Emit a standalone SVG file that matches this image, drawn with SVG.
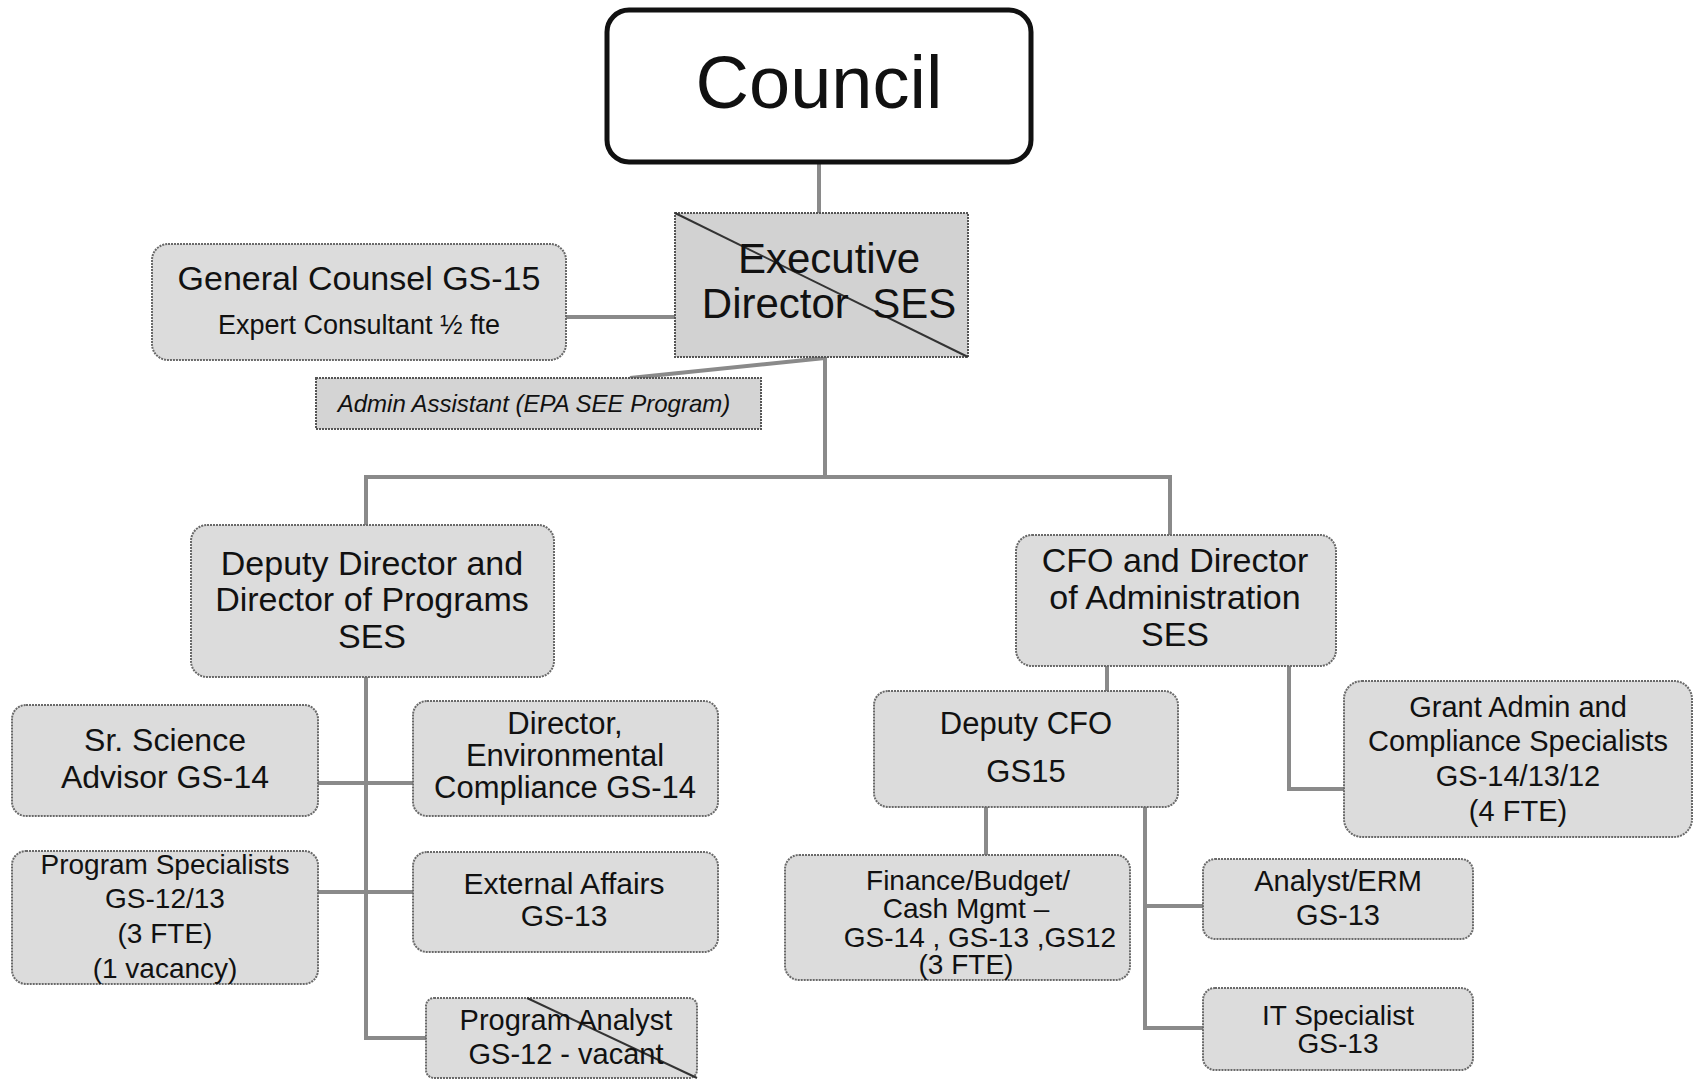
<svg xmlns="http://www.w3.org/2000/svg" width="1700" height="1080" viewBox="0 0 1700 1080">
<defs>
<linearGradient id="gshade" x1="0" y1="0" x2="1" y2="1">
<stop offset="0" stop-color="#d6d6d6"/>
<stop offset="0.45" stop-color="#d2d2d2"/>
<stop offset="0.6" stop-color="#e2e2e2"/>
<stop offset="1" stop-color="#d8d8d8"/>
</linearGradient>
<linearGradient id="gshade2" x1="0" y1="0" x2="1" y2="1">
<stop offset="0" stop-color="#d9d9d9"/>
<stop offset="0.2" stop-color="#e4e4e4"/>
<stop offset="0.4" stop-color="#d8d8d8"/>
<stop offset="1" stop-color="#dadada"/>
</linearGradient>
</defs>
<style>
text{font-family:"Liberation Sans",Arial,sans-serif;fill:#111;text-anchor:middle}
.box{fill:#dcdcdc;stroke:#6a6a6a;stroke-width:2;stroke-dasharray:2 1}
.conn{stroke:#8a8a8a;stroke-width:4;fill:none}
.diag{stroke:#333;stroke-width:2}
</style>
<rect width="1700" height="1080" fill="#ffffff"/>
<g id="connectors">
<line class="conn" x1="819" y1="163" x2="819" y2="213"/>
<line class="conn" x1="566" y1="317" x2="675" y2="317"/>
<line class="conn" x1="630" y1="378" x2="825" y2="358"/>
<polyline class="conn" points="825,357 825,477"/>
<polyline class="conn" points="366,525 366,477 1170,477 1170,535"/>
<polyline class="conn" points="366,677 366,1038 426,1038"/>
<line class="conn" x1="318" y1="783" x2="413" y2="783"/>
<line class="conn" x1="318" y1="892" x2="413" y2="892"/>
<line class="conn" x1="1107" y1="666" x2="1107" y2="691"/>
<polyline class="conn" points="1289,666 1289,789 1344,789"/>
<line class="conn" x1="986" y1="807" x2="986" y2="855"/>
<polyline class="conn" points="1145,807 1145,1028 1203,1028"/>
<line class="conn" x1="1145" y1="906" x2="1203" y2="906"/>
</g>
<g id="council">
<rect x="607" y="10" width="424" height="152" rx="22" fill="#ffffff" stroke="#111" stroke-width="5"/>
<text x="819" y="108" font-size="74">Council</text>
</g>
<g id="executive-director">
<rect x="675" y="213" width="293" height="144" fill="#d2d2d2" stroke="#555" stroke-width="2" stroke-dasharray="2 1"/>
<line class="diag" x1="675" y1="213" x2="968" y2="357"/>
<text x="829" y="273" font-size="42">Executive</text>
<text x="829" y="318" font-size="42" xml:space="preserve">Director  SES</text>
</g>
<g id="general-counsel">
<rect class="box" x="152" y="244" width="414" height="116" rx="16"/>
<text x="359" y="290" font-size="34">General Counsel GS-15</text>
<text x="359" y="334" font-size="27">Expert Consultant ½ fte</text>
</g>
<g id="admin-assistant">
<rect x="316" y="378" width="445" height="51" fill="#d4d4d4" stroke="#555" stroke-width="2" stroke-dasharray="2 1"/>
<text x="534" y="412" font-size="24" font-style="italic">Admin Assistant (EPA SEE Program)</text>
</g>
<g id="deputy-director">
<rect class="box" x="191" y="525" width="363" height="152" rx="16"/>
<text x="372" y="575" font-size="34">Deputy Director and</text>
<text x="372" y="611" font-size="34">Director of Programs</text>
<text x="372" y="648" font-size="34">SES</text>
</g>
<g id="cfo">
<rect class="box" x="1016" y="535" width="320" height="131" rx="16" fill="url(#gshade2)"/>
<text x="1175" y="572" font-size="34">CFO and Director</text>
<text x="1175" y="609" font-size="34">of Administration</text>
<text x="1175" y="646" font-size="34">SES</text>
</g>
<g id="sr-science-advisor">
<rect class="box" x="12" y="705" width="306" height="111" rx="14"/>
<text x="165" y="751" font-size="32">Sr. Science</text>
<text x="165" y="788" font-size="32">Advisor GS-14</text>
</g>
<g id="director-env-compliance">
<rect class="box" x="413" y="701" width="305" height="115" rx="14"/>
<text x="565" y="734" font-size="31">Director,</text>
<text x="565" y="766" font-size="31">Environmental</text>
<text x="565" y="798" font-size="31">Compliance GS-14</text>
</g>
<g id="program-specialists">
<rect class="box" x="12" y="851" width="306" height="133" rx="14"/>
<text x="165" y="874" font-size="28">Program Specialists</text>
<text x="165" y="908" font-size="28">GS-12/13</text>
<text x="165" y="943" font-size="28">(3 FTE)</text>
<text x="165" y="978" font-size="28">(1 vacancy)</text>
</g>
<g id="external-affairs">
<rect class="box" x="413" y="852" width="305" height="100" rx="14"/>
<text x="564" y="894" font-size="30">External Affairs</text>
<text x="564" y="926" font-size="30">GS-13</text>
</g>
<g id="program-analyst">
<rect class="box" x="426" y="998" width="271" height="80" rx="8"/>
<line class="diag" x1="527" y1="998" x2="697" y2="1078"/>
<text x="566" y="1030" font-size="29">Program Analyst</text>
<text x="566" y="1064" font-size="29">GS-12 - vacant</text>
</g>
<g id="deputy-cfo">
<rect class="box" x="874" y="691" width="304" height="116" rx="14" fill="url(#gshade)"/>
<text x="1026" y="734" font-size="31">Deputy CFO</text>
<text x="1026" y="782" font-size="31">GS15</text>
</g>
<g id="grant-admin">
<rect class="box" x="1344" y="681" width="348" height="156" rx="18" stroke-width="3"/>
<text x="1518" y="717" font-size="29">Grant Admin and</text>
<text x="1518" y="751" font-size="29">Compliance Specialists</text>
<text x="1518" y="786" font-size="29">GS-14/13/12</text>
<text x="1518" y="821" font-size="29">(4 FTE)</text>
</g>
<g id="finance-budget">
<rect class="box" x="785" y="855" width="345" height="125" rx="14" fill="url(#gshade2)"/>
<text x="968" y="890" font-size="28">Finance/Budget/</text>
<text x="966" y="918" font-size="28">Cash Mgmt –</text>
<text x="980" y="947" font-size="28">GS-14 , GS-13 ,GS12</text>
<text x="966" y="974" font-size="28">(3 FTE)</text>
</g>
<g id="analyst-erm">
<rect class="box" x="1203" y="859" width="270" height="80" rx="12" fill="url(#gshade2)"/>
<text x="1338" y="891" font-size="29">Analyst/ERM</text>
<text x="1338" y="925" font-size="29">GS-13</text>
</g>
<g id="it-specialist">
<rect class="box" x="1203" y="988" width="270" height="82" rx="12" fill="url(#gshade2)"/>
<text x="1338" y="1025" font-size="28">IT Specialist</text>
<text x="1338" y="1053" font-size="28">GS-13</text>
</g>
</svg>
